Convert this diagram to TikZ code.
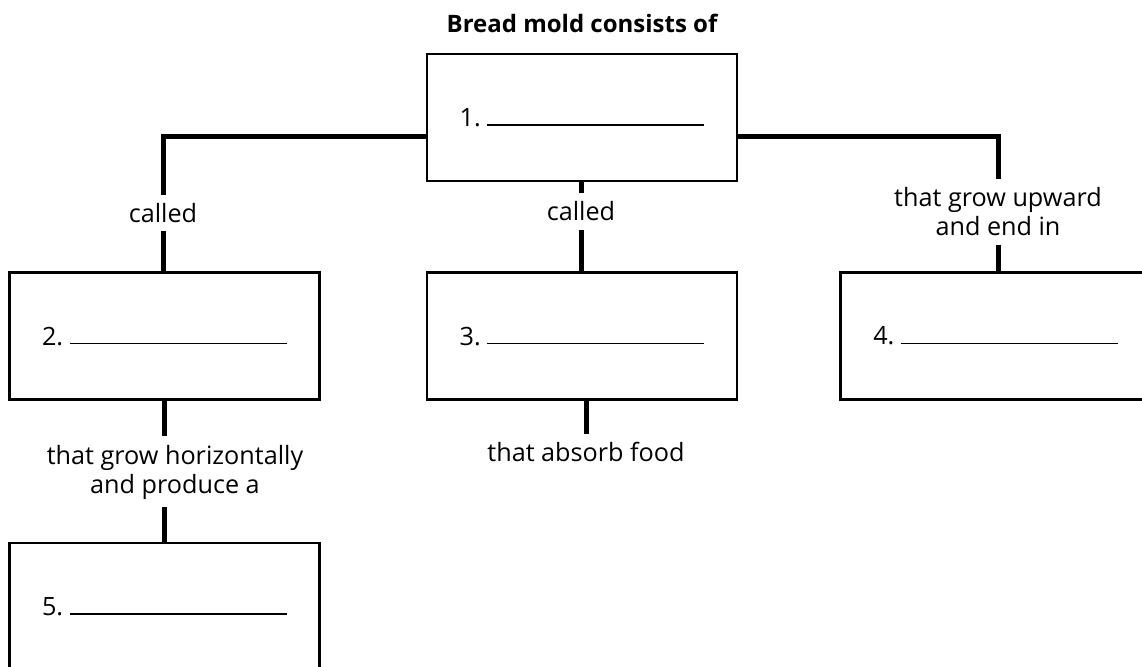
\documentclass[tikz,border=0pt]{standalone}
\usepackage{fontspec}
\setmainfont{Open Sans}
\usetikzlibrary{positioning,calc}

\newcommand{\fillin}[1]{#1.\ \rule[0.4pt]{108.5pt}{0.7pt}}

\begin{document}
\begin{tikzpicture}[
  x=0.5pt,y=-0.5pt,
  font=\fontsize{12.6}{14.5}\selectfont,
  blank/.style={draw,line width=1.3pt,minimum width=155pt,minimum height=63.5pt,inner sep=0pt},
  lbl/.style={align=center,inner xsep=2pt,inner ysep=4pt},
  conn/.style={line width=2.5pt}
]
\useasboundingbox (0,0) rectangle (1142,667);
\node[font=\fontsize{12}{14}\selectfont\bfseries] (title) at (582,23) {Bread mold consists of};
\node[blank] (b1) at (582,117.5) {\fillin{1}};
\node[blank,below=44.5pt of b1] (b3) {\fillin{3}};
\node[blank,left=52.5pt of b3] (b2) {\fillin{2}};
\node[blank,right=50.5pt of b3] (b4) {\fillin{4}};
\node[blank,below=70.5pt of b2] (b5) {\fillin{5}};

\node[lbl] (called2) at (163,213) {called};
\node[lbl] (called3) at (581,211.5) {called};
\node[lbl] (upward) at (998,212) {that grow upward\\and end in};
\node[lbl] (horiz) at (175,472) {that grow horizontally\\and produce a};
\node[lbl] (absorb) at (586,452) {that absorb food};

\draw[conn] ([yshift=-9.75pt]b1.west) -| (called2);
\draw[conn] (called2) -- (called2 |- b2.north);
\draw[conn] (b1.south -| called3) -- (called3);
\draw[conn] (called3) -- (called3 |- b3.north);
\draw[conn] ([yshift=-9.75pt]b1.east) -| (upward);
\draw[conn] (upward) -- (upward |- b4.north);
\draw[conn] (b2.south) -- (b2.south |- horiz.north);
\draw[conn] (b2.south |- horiz.south) -- (b5.north);
\draw[conn] (b3.south -| absorb) -- (absorb);
\end{tikzpicture}
\end{document}
